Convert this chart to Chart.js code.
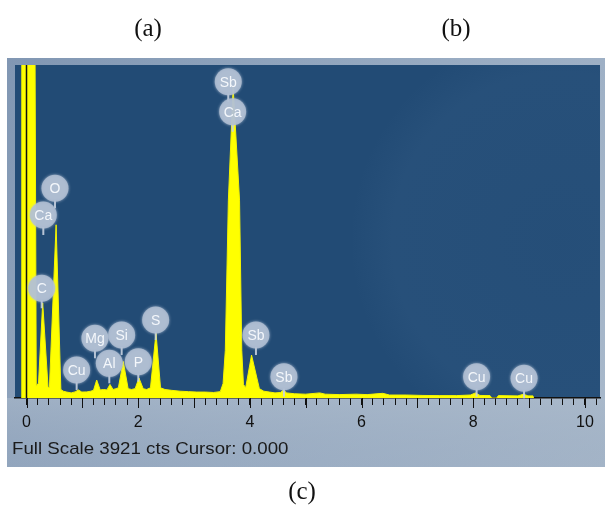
<!DOCTYPE html>
<html>
<head>
<meta charset="utf-8">
<script src="https://cdn.jsdelivr.net/npm/chart.js@4.4.0/dist/chart.umd.min.js"></script>
<style>
  html, body { margin: 0; padding: 0; background: #fff; }
  #wrap { position: relative; width: 605px; height: 516px; overflow: hidden; }
  #eds { position: absolute; left: 0; top: 0; }
  .cap { position: absolute; font-family: 'Liberation Serif', 'Times New Roman', serif; font-size: 25px; color: #111; transform: translateX(-50%); line-height: 1; }
  #fullscale { position: absolute; left: 12px; top: 440px; font-family: 'Liberation Sans', Arial, sans-serif; font-size: 17px; color: #1a1a1a; line-height: 1; transform: scaleX(1.1); transform-origin: left top; white-space: nowrap; }
</style>
</head>
<body>
<div id="wrap">
  <canvas id="eds" width="605" height="516"></canvas>
  <div class="cap" style="left:148px;top:15px">(a)</div>
  <div class="cap" style="left:456px;top:15px">(b)</div>
  <div class="cap" style="left:302px;top:478px">(c)</div>
  <div id="fullscale">Full Scale 3921 cts Cursor: 0.000</div>
</div>
<script>
// spectrum (keV, counts)
const energy = [
   -0.09, -0.085, 0.15, 0.175, 0.215, 0.29, 0.385, 0.41, 0.53, 0.615,
   0.66, 0.72, 0.8, 0.87, 0.93, 0.99, 1.08, 1.15, 1.2, 1.257,
   1.32, 1.38, 1.44, 1.495, 1.55, 1.6, 1.645, 1.733, 1.82, 1.88,
   1.945, 2.014, 2.09, 2.15, 2.22, 2.319, 2.4, 2.48, 2.6, 2.75,
   2.9, 3.05, 3.2, 3.35, 3.47, 3.52, 3.56, 3.615, 3.7, 3.815,
   3.855, 3.885, 3.925, 4.03, 4.17, 4.25, 4.35, 4.45, 4.55, 4.6,
   4.66, 4.8, 5.0, 5.25, 5.35, 5.6, 5.9, 6.1, 6.38, 6.5,
   6.8, 7.1, 7.4, 7.7, 7.95, 8.04, 8.12, 8.3, 8.33, 8.42,
   8.45, 8.8, 8.9, 8.98, 9.07, 9.08
];
const counts = [
   0, 4600, 4600, 140, 175, 1120, 135, 118, 2040, 100,
   80, 70, 60, 72, 95, 70, 72, 80, 90, 212,
   95, 100, 95, 160, 100, 110, 120, 430, 110, 100,
   110, 235, 110, 100, 120, 765, 120, 100, 90, 80,
   75, 70, 70, 65, 75, 170, 560, 2330, 3660, 2330,
   560, 160, 120, 506, 110, 80, 70, 60, 65, 95,
   60, 50, 45, 60, 45, 40, 45, 40, 55, 35,
   35, 30, 28, 28, 35, 60, 30, 28, 0, 0,
   28, 25, 45, 25, 25, 0
];

const fullScale = 3921;
const cursorAt = 0;
const majorLabels = [0, 2, 4, 6, 8, 10];

// element markers: name, energy of the marker, height of the bubble in counts
const peakNames   = ['O', 'Ca', 'C', 'Cu', 'Mg', 'Al', 'Si', 'P', 'S', 'Sb', 'Ca', 'Sb', 'Sb', 'Cu', 'Cu'];
const peakEnergy  = [0.51, 0.301, 0.272, 0.898, 1.226, 1.483, 1.704, 2.002, 2.313, 3.613, 3.692, 4.109, 4.61, 8.06, 8.91];
const peakLabelAt = [2469, 2155, 1292, 330, 703, 408, 742, 427, 918, 3724, 3371, 742, 251, 251, 232];

const minorTicks = [];
for (let i = 0; i <= 51; i++) minorTicks.push(+(i * 0.2).toFixed(1));

const backdrop = {
   id: 'backdrop',
   beforeDraw(chart) {
      const c = chart.ctx, a = chart.chartArea;
      c.save();
      // grey-blue frame of the screenshot
      let g = c.createLinearGradient(7, 58, 605, 467);
      g.addColorStop(0, '#8197b3');
      g.addColorStop(0.5, '#98abc2');
      g.addColorStop(1, '#a9b9cb');
      c.fillStyle = g;
      c.fillRect(7, 58, 598, 409);
      g = c.createLinearGradient(0, a.bottom, 0, 467);
      g.addColorStop(0, 'rgba(170,185,202,0.6)');
      g.addColorStop(1, 'rgba(150,168,190,0.3)');
      c.fillStyle = g;
      c.fillRect(7, a.bottom, 598, 467 - a.bottom);
      // dark blue plot area
      c.fillStyle = '#224b75';
      c.fillRect(a.left, a.top, a.right - a.left, a.bottom - a.top);
      g = c.createRadialGradient(560, 240, 0, 560, 240, 210);
      g.addColorStop(0, 'rgba(120,160,200,0.04)');
      g.addColorStop(0.8, 'rgba(120,160,200,0.06)');
      g.addColorStop(1, 'rgba(120,160,200,0)');
      c.fillStyle = g;
      c.fillRect(a.left, a.top, a.right - a.left, a.bottom - a.top);
      c.restore();
   },
   afterDatasetsDraw(chart) {
      const c = chart.ctx, a = chart.chartArea;
      const xs = chart.scales.x, ys = chart.scales.y;
      c.save();
      // cursor
      const cx = xs.getPixelForValue(cursorAt);
      c.strokeStyle = '#111';
      c.lineWidth = 1.5;
      c.beginPath();
      c.moveTo(cx, a.top);
      c.lineTo(cx, a.bottom);
      c.stroke();

      // longer marks at whole keV
      c.lineWidth = 1;
      for (let v = 0; v <= 10; v++) {
         const px = Math.round(xs.getPixelForValue(v)) + 0.5;
         c.beginPath();
         c.moveTo(px, a.bottom);
         c.lineTo(px, a.bottom + 10);
         c.stroke();
      }

      // element bubbles
      c.font = '14px "Liberation Sans", Arial, sans-serif';
      c.textAlign = 'center';
      c.textBaseline = 'middle';
      peakNames.forEach((name, i) => {
         const x = xs.getPixelForValue(peakEnergy[i]);
         const y = ys.getPixelForValue(peakLabelAt[i]);
         c.strokeStyle = 'rgba(200,210,224,0.9)';
         c.lineWidth = 2;
         c.beginPath();
         c.moveTo(x, y + 12);
         c.lineTo(x, y + 20);
         c.stroke();
         c.fillStyle = 'rgba(178,192,212,0.85)';
         c.shadowColor = 'rgba(190,202,220,0.9)';
         c.shadowBlur = 3;
         c.beginPath();
         c.arc(x, y, 13.5, 0, Math.PI * 2);
         c.fill();
         c.shadowBlur = 0;
         c.fillStyle = '#f4f7fb';
         c.fillText(name, x, y + 1);
      });
      c.restore();
   }
};

new Chart(document.getElementById('eds').getContext('2d'), {
   type: 'line',
   data: {
      datasets: [{
         data: energy.map((e, i) => ({ x: e, y: counts[i] })),
         borderColor: '#f4f400',
         backgroundColor: '#ffff00',
         borderWidth: 1,
         pointRadius: 0,
         fill: 'origin',
         tension: 0
      }]
   },
   options: {
      responsive: false,
      animation: false,
      layout: { padding: { left: 15, right: 5, top: 65, bottom: 0 } },
      plugins: { legend: { display: false }, tooltip: { enabled: false } },
      scales: {
         x: {
            type: 'linear',
            min: -0.206,
            max: 10.27,
            afterBuildTicks: s => { s.ticks = minorTicks.map(v => ({ value: v })); },
            afterFit: s => { s.height = 118; },
            grid: { drawOnChartArea: false, drawTicks: true, tickLength: 7, tickColor: '#111', color: '#111' },
            border: { color: '#111', width: 1.5 },
            ticks: {
               autoSkip: false,
               maxRotation: 0,
               padding: 8,
               color: '#111',
               font: { family: '"Liberation Sans", Arial, sans-serif', size: 16 },
               callback: v => majorLabels.includes(v) ? String(v) : ''
            }
         },
         y: { display: false, min: 0, max: fullScale }
      }
   },
   plugins: [backdrop]
});
</script>
</body>
</html>
